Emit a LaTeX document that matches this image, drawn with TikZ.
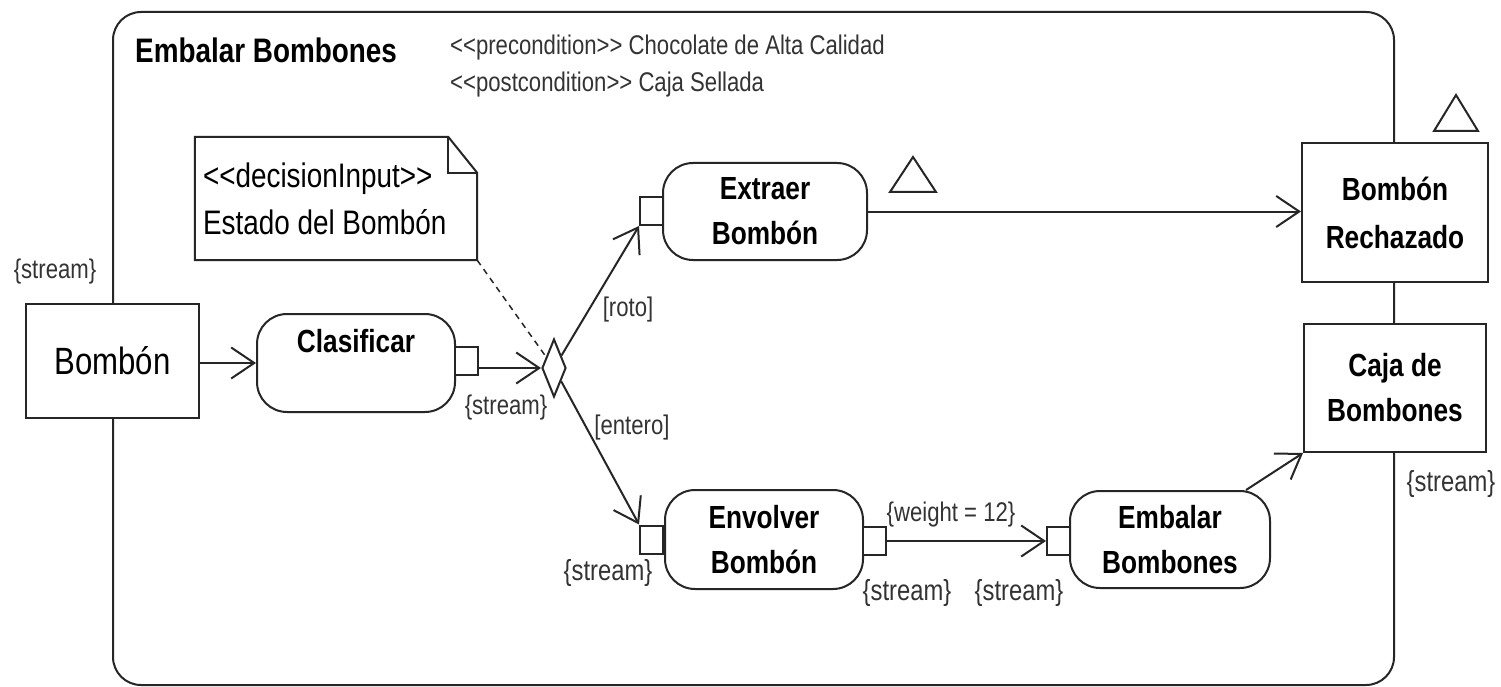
\documentclass[tikz,border=0pt]{standalone}
\usepackage{fontspec}
\setmainfont{Liberation Sans}[FakeStretch=0.82,Ligatures=TeXOff]
\usetikzlibrary{arrows.meta,shapes.geometric}
\begin{document}
\begin{tikzpicture}[x=1pt,y=-1pt,
  ln/.style={line width=2pt,draw=black!85},
  act/.style={ln,rounded corners=30pt,fill=white,align=center,inner sep=0pt,
    font=\bfseries\fontsize{32}{45}\selectfont},
  obj/.style={ln,rectangle,fill=white,align=center,inner sep=0pt,
    font=\bfseries\fontsize{32}{45}\selectfont},
  pinbox/.style={ln,fill=white,minimum width=23pt,minimum height=28pt,inner sep=0pt},
  lbl/.style={font=\fontsize{27}{30}\selectfont,text=black!80,inner sep=0pt},
  lblb/.style={font=\fontsize{29}{32}\selectfont,text=black!80,inner sep=0pt},
  cond/.style={anchor=base west,font=\fontsize{27}{30}\selectfont,text=black!80,inner sep=0pt},
  flow/.style={ln,-{Straight Barb[length=23pt,width=31pt]}},
]
\useasboundingbox (0,0) rectangle (1501,687);
\fill[white] (0,0) rectangle (1501,687);

% frame of the activity
\node[ln,rounded corners=28pt,minimum width=1281pt,minimum height=673pt,inner sep=0pt] (frame) at (753.5,348.5) {};

\node[anchor=base west,font=\bfseries\fontsize{34}{40}\selectfont,inner sep=0pt] (title) at (135,63) {Embalar Bombones};
\node[cond] (pre) at (450,55) {<<precondition>> Chocolate de Alta Calidad};
\node[cond] (post) at (450,92) {<<postcondition>> Caja Sellada};

% note
\node[align=flush left,text width=266pt,inner xsep=8pt,inner ysep=0pt,minimum height=123pt,
  font=\fontsize{34}{47}\selectfont] (note) at (336,198.5) {<<decisionInput>>\\Estado del Bombón};
\draw[ln] (note.north west) -- ([xshift=-29pt]note.north east) -- ([yshift=-36pt]note.north east)
  -- (note.south east) -- (note.south west) -- cycle;
\draw[ln] ([xshift=-29pt]note.north east) |- ([yshift=-36pt]note.north east);

% parameter nodes
\node[ln,fill=white,minimum width=173pt,minimum height=114pt,inner sep=0pt,
  font=\fontsize{38}{44}\selectfont] (bombon) at (112.5,361) {Bombón};
\node[obj,minimum width=186pt,minimum height=139pt,font=\bfseries\fontsize{32}{48}\selectfont] (rech) at (1395,212.5) {Bombón\\Rechazado};
\node[obj,minimum width=182pt,minimum height=128pt] (caja) at (1395,388) {Caja de\\Bombones};

% actions
\node[act,minimum width=198pt,minimum height=98pt] (clas) at (356,363) {Clasificar\\\mbox{}};
\node[act,minimum width=204pt,minimum height=97pt] (extraer) at (765,211.5) {Extraer\\Bombón};
\node[act,minimum width=198pt,minimum height=99pt] (envolver) at (764,539.5) {Envolver\\Bombón};
\node[act,minimum width=200pt,minimum height=97pt] (embalar) at (1170,539.5) {Embalar\\Bombones};

% pins
\node[pinbox] (clpin) at (466.5,361) {};
\node[pinbox] (expin) at (651.5,211) {};
\node[pinbox] (envin) at (651.5,539.5) {};
\node[pinbox] (envout) at (874.5,541) {};
\node[pinbox] (embpin) at (1058.5,541) {};

% decision
\node[ln,diamond,fill=white,minimum width=24pt,minimum height=58pt,inner sep=0pt] (dec) at (554,368) {};

% triangles
\draw[ln] (890,192) -- (936,192) -- (913,157) -- cycle;
\draw[ln] (1434,131) -- (1478,131) -- (1456,95) -- cycle;

% flows
\draw[flow] (bombon.east |- clas.west) -- (clas.west);
\draw[flow] (clpin.east |- dec.west) -- (dec.west);
\draw[flow] (dec) -- (expin.south west);
\draw[flow] (dec) -- (envin.north west);
\draw[flow] (extraer.east) -- (extraer.east -| rech.west);
\draw[flow] (envout) -- (embpin);
\draw[flow] (embalar) -- (caja.south west);
\draw[ln,line width=1.5pt,dash pattern=on 6pt off 5pt] (note.south east) -- (dec);

% labels
\node[lbl] (s1) at (55,272) {\{stream\}};
\node[lbl] (s2) at (506,408) {\{stream\}};
\node[lblb] (s3) at (608,573) {\{stream\}};
\node[lblb] (s4) at (907,593) {\{stream\}};
\node[lblb] (s5) at (1019,593) {\{stream\}};
\node[lblb] (s6) at (1451,484) {\{stream\}};
\node[lbl] (roto) at (628,310) {[roto]};
\node[lbl] (entero) at (632,428) {[entero]};
\node[lbl] (weight) at (951,515) {\{weight = 12\}};
\end{tikzpicture}
\end{document}
